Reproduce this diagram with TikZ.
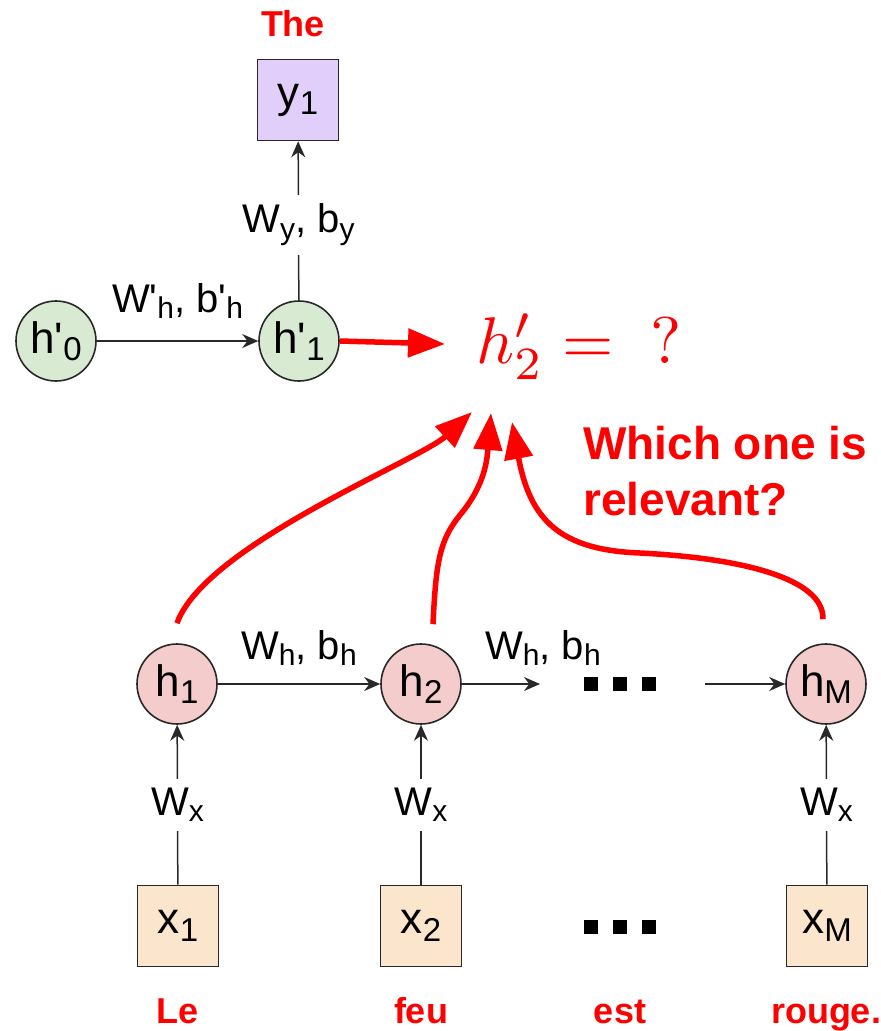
\documentclass[tikz,border=0pt]{standalone}
\usepackage[no-math]{fontspec}
\setmainfont{Liberation Sans}
\usetikzlibrary{arrows.meta}
\definecolor{gfill}{RGB}{217,234,211}
\definecolor{rfill}{RGB}{244,204,204}
\definecolor{ofill}{RGB}{252,229,205}
\definecolor{pfill}{RGB}{225,206,250}
\definecolor{edge}{RGB}{40,40,40}
\newcommand\sbs[1]{\raisebox{-0.17em}{\scalebox{0.75}{#1}}}
\newcommand\sqdots{\rule{14pt}{14pt}\hspace{15pt}\rule{14pt}{14pt}\hspace{15pt}\rule{14pt}{14pt}}
\begin{document}
\begin{tikzpicture}[x=1pt,y=-1pt,
  circ/.style={circle, draw=edge, line width=1.6pt, minimum size=80pt, inner sep=0pt, font=\fontsize{44}{50}\selectfont},
  hg/.style={circ, fill=gfill},
  hr/.style={circ, fill=rfill},
  sq/.style={rectangle, draw=edge, line width=1.6pt, minimum size=81pt, inner sep=0pt, font=\fontsize{44}{50}\selectfont},
  lbl/.style={font=\fontsize{40}{46}\selectfont, inner sep=1pt},
  gaplbl/.style={lbl, fill=white, inner xsep=2pt, inner ysep=9pt},
  arr/.style={draw=edge, line width=1.5pt, -{Stealth[length=16pt,width=14pt]}},
  redarr/.style={draw=red, line width=5.5pt, -{Triangle[length=37pt,width=28pt]}},
  word/.style={text=red, font=\bfseries\fontsize{36}{40}\selectfont, inner sep=0pt},
  bigword/.style={text=red, font=\bfseries\fontsize{46}{56}\selectfont, inner sep=0pt, align=left}
]
\useasboundingbox (0,0) rectangle (881,1031);

% decoder
\node[word, anchor=base] (wThe) at (293,36) {The};
\node[sq, fill=pfill] (y1) at (298,100) {y\sbs{1}};
\node[hg] (h0p) at (56,341) {h\textquotesingle\sbs{0}};
\node[hg] (h1p) at (299,341) {h\textquotesingle\sbs{1}};
\draw[arr] (h0p) -- (h1p) node[lbl, midway, yshift=40pt] (lwhp) {W\textquotesingle\sbs{h}, b\textquotesingle\sbs{h}};
\draw[arr] (h1p) -- node[gaplbl, yshift=-4pt] (lwy) {W\sbs{y}, b\sbs{y}} (y1);

% question
\node[text=red, anchor=base west, inner sep=0pt, scale=6.6] (hq) at (475,363) {$h'_2 \mathrel{=} \mkern10mu ?$};
\coordinate (tA) at (445,344);
\draw[redarr] (h1p.east) -- (tA);
\node[bigword, anchor=north west] (which) at (583,426) {Which one is\\relevant?};

% encoder
\node[hr] (h1) at (177,684) {h\sbs{1}};
\node[hr] (h2) at (421,684) {h\sbs{2}};
\node[hr] (hM) at (826,684) {h\sbs{M}};
\node[inner sep=0pt] (dA) at (620,684) {\sqdots};
\coordinate (c1) at (540,684);
\coordinate (c2) at (705,684);
\draw[arr] (h1) -- (h2) node[lbl, midway, yshift=36pt] (lwh1) {W\sbs{h}, b\sbs{h}};
\draw[arr] (h2) -- (c1);
\node[lbl] (lwh2) at (543,648) {W\sbs{h}, b\sbs{h}};
\draw[arr] (c2) -- (hM);

\node[sq, fill=ofill] (x1) at (178,926) {x\sbs{1}};
\node[sq, fill=ofill] (x2) at (421,926) {x\sbs{2}};
\node[sq, fill=ofill] (xM) at (827,926) {x\sbs{M}};
\node[inner sep=0pt] (dB) at (620,927) {\sqdots};
\draw[arr] (x1) -- node[gaplbl] (lwx1) {W\sbs{x}} (h1);
\draw[arr] (x2) -- node[gaplbl] (lwx2) {W\sbs{x}} (h2);
\draw[arr] (xM) -- node[gaplbl] (lwxM) {W\sbs{x}} (hM);

\node[word, anchor=base] (wLe) at (178,1023) {Le};
\node[word, anchor=base] (wfeu) at (421,1023) {feu};
\node[word, anchor=base] (west) at (620,1023) {est};
\node[word, anchor=base] (wrouge) at (826,1023) {rouge.};

% attention arrows
\coordinate (t1) at (472,412);
\coordinate (t2) at (491,413);
\coordinate (t3) at (512,422);
\draw[redarr] ([yshift=20pt]h1.north) .. controls (205,545) and (420,460) .. (t1);
\draw[redarr] ([xshift=12pt,yshift=19pt]h2.north) .. controls (436,560) and (440,540) .. (460,515) .. controls (485,485) and (487,460) .. (t2);
\draw[redarr] ([xshift=-3pt,yshift=24pt]hM.north) .. controls (824,578) and (740,558) .. (640,553) .. controls (560,550) and (530,520) .. (t3);
\end{tikzpicture}
\end{document}
